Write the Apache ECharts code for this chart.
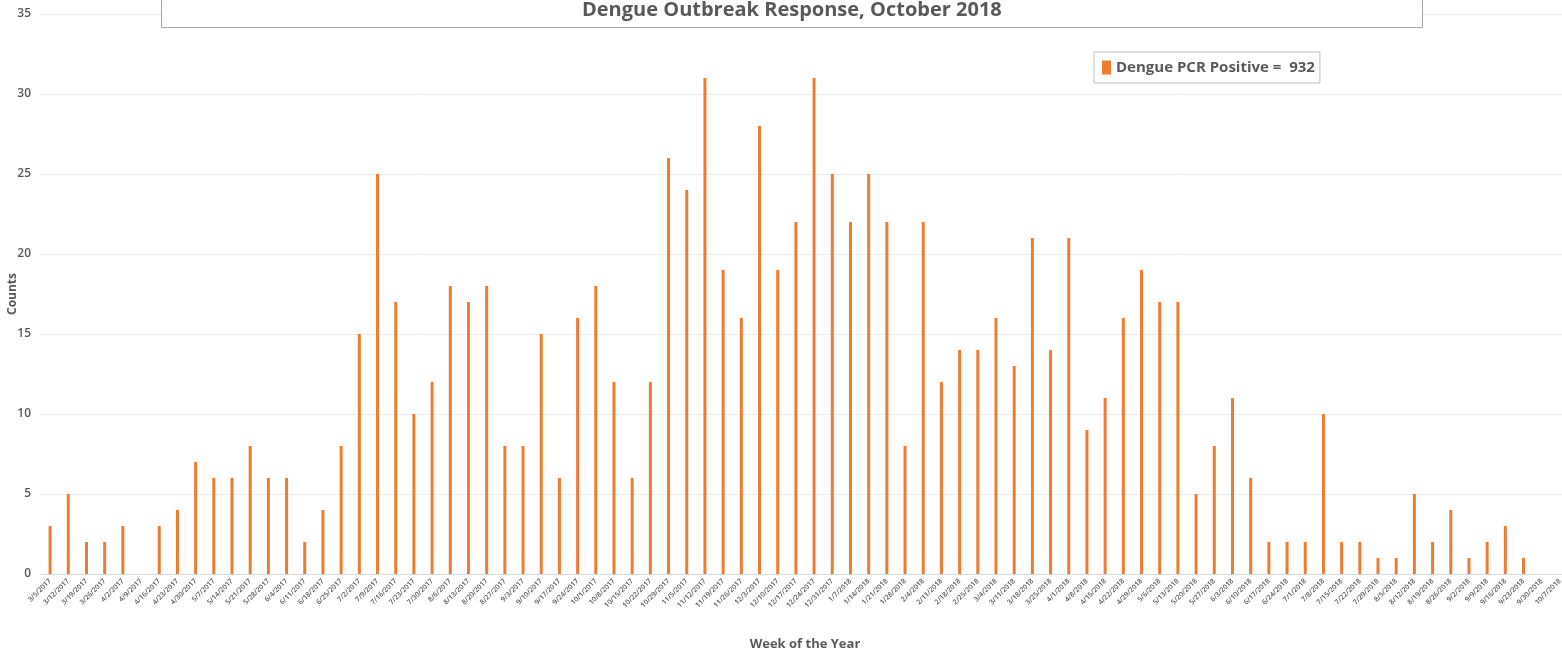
<!DOCTYPE html>
<html>
<head>
<meta charset="utf-8">
<title>Dengue Outbreak Response</title>
<script src="https://cdn.jsdelivr.net/npm/echarts@6/dist/echarts.min.js"></script>
<style>
  html, body { margin: 0; padding: 0; background: #fff; }
  #chart { width: 1562px; height: 656px; }
</style>
</head>
<body>
<div id="chart"></div>
<script>
// week start dates (x axis)
var weeks = [
  '3/5/2017', '3/12/2017', '3/19/2017', '3/26/2017', '4/2/2017', '4/9/2017', '4/16/2017', '4/23/2017',
  '4/30/2017', '5/7/2017', '5/14/2017', '5/21/2017', '5/28/2017', '6/4/2017', '6/11/2017', '6/18/2017',
  '6/25/2017', '7/2/2017', '7/9/2017', '7/16/2017', '7/23/2017', '7/30/2017', '8/6/2017', '8/13/2017',
  '8/20/2017', '8/27/2017', '9/3/2017', '9/10/2017', '9/17/2017', '9/24/2017', '10/1/2017', '10/8/2017',
  '10/15/2017', '10/22/2017', '10/29/2017', '11/5/2017', '11/12/2017', '11/19/2017', '11/26/2017', '12/3/2017',
  '12/10/2017', '12/17/2017', '12/24/2017', '12/31/2017', '1/7/2018', '1/14/2018', '1/21/2018', '1/28/2018',
  '2/4/2018', '2/11/2018', '2/18/2018', '2/25/2018', '3/4/2018', '3/11/2018', '3/18/2018', '3/25/2018',
  '4/1/2018', '4/8/2018', '4/15/2018', '4/22/2018', '4/29/2018', '5/6/2018', '5/13/2018', '5/20/2018',
  '5/27/2018', '6/3/2018', '6/10/2018', '6/17/2018', '6/24/2018', '7/1/2018', '7/8/2018', '7/15/2018',
  '7/22/2018', '7/29/2018', '8/5/2018', '8/12/2018', '8/19/2018', '8/26/2018', '9/2/2018', '9/9/2018',
  '9/16/2018', '9/23/2018', '9/30/2018', '10/7/2018'
];

// weekly PCR positive counts
var pcrPositive = [
  3, 5, 2, 2, 3, 0, 3, 4,
  7, 6, 6, 8, 6, 6, 2, 4,
  8, 15, 25, 17, 10, 12, 18, 17,
  18, 8, 8, 15, 6, 16, 18, 12,
  6, 12, 26, 24, 31, 19, 16, 28,
  19, 22, 31, 25, 22, 25, 22, 8,
  22, 12, 14, 14, 16, 13, 21, 14,
  21, 9, 11, 16, 19, 17, 17, 5,
  8, 11, 6, 2, 2, 2, 10, 2,
  2, 1, 1, 5, 2, 4, 1, 2,
  3, 1, 0, 0
];

var yTicks = [0, 5, 10, 15, 20, 25, 30, 35];

var total = pcrPositive.reduce(function (a, b) { return a + b; }, 0);
var seriesName = 'Dengue PCR Positive =  ' + total;

var textGrey = '#595959';
var font = '"Open Sans", "Liberation Sans", sans-serif';

var myChart = echarts.init(document.getElementById('chart'));
var option = {
  animation: false,
  textStyle: { fontFamily: font },
  title: {
    text: 'Dengue Outbreak Response, October 2018',
    left: 161,
    top: -12,
    padding: [12, 421, 8, 421],
    backgroundColor: '#fff',
    borderColor: '#a6a6a6',
    borderWidth: 1,
    textStyle: {
      color: textGrey,
      fontSize: 20,
      fontWeight: 'bold',
      fontFamily: font
    }
  },
  legend: {
    left: 1094,
    top: 52,
    padding: [8, 5, 8, 8],
    backgroundColor: '#fff',
    borderColor: '#bfbfbf',
    borderWidth: 1,
    itemWidth: 9,
    itemHeight: 14,
    icon: 'rect',
    data: [seriesName],
    textStyle: {
      color: textGrey,
      fontSize: 15,
      fontWeight: 'bold',
      fontFamily: font
    }
  },
  grid: {
    left: 41,
    right: -7,
    top: 14,
    bottom: 82,
    containLabel: false,
    outerBoundsMode: 'none'
  },
  xAxis: {
    type: 'category',
    data: weeks,
    name: 'Week of the Year',
    nameLocation: 'middle',
    nameGap: 64,
    nameMoveOverlap: false,
    nameTextStyle: {
      color: textGrey,
      fontSize: 13,
      fontWeight: 'bold'
    },
    axisLine: { lineStyle: { color: '#d9d9d9' } },
    axisTick: { show: false },
    axisLabel: {
      interval: 0,
      rotate: 45,
      fontSize: 7,
      fontWeight: 600,
      color: textGrey,
      margin: 6
    }
  },
  yAxis: {
    type: 'value',
    min: yTicks[0],
    max: yTicks[yTicks.length - 1],
    interval: yTicks[1] - yTicks[0],
    name: 'Counts',
    nameLocation: 'middle',
    nameGap: 22,
    nameRotate: 90,
    nameMoveOverlap: false,
    nameTextStyle: {
      color: textGrey,
      fontSize: 12,
      fontWeight: 'bold'
    },
    axisLine: { show: false },
    axisTick: { show: false },
    axisLabel: {
      color: textGrey,
      fontSize: 12,
      fontWeight: 600,
      margin: 10
    },
    splitLine: { lineStyle: { color: '#ececec' } }
  },
  series: [{
    name: seriesName,
    type: 'bar',
    data: pcrPositive,
    barWidth: 3,
    itemStyle: { color: '#ED7D31' }
  }]
};

myChart.setOption(option);
</script>
</body>
</html>
